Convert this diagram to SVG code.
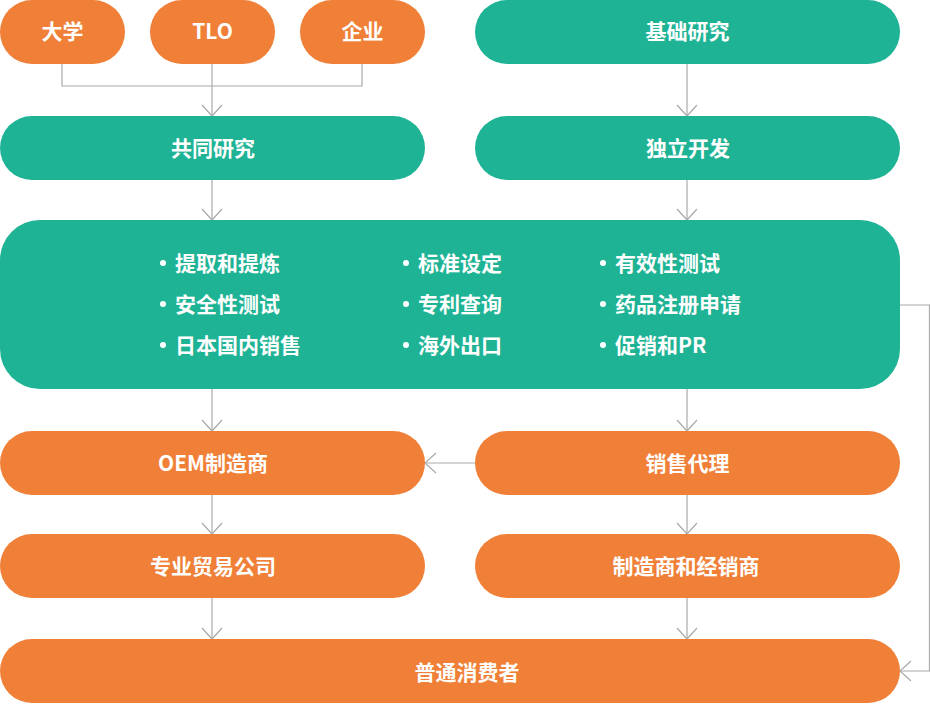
<svg xmlns="http://www.w3.org/2000/svg" width="930" height="704" viewBox="0 0 930 704">
<defs>
<style>
.o{fill:#F07F37}
.g{fill:#1FB395}
.t{fill:#fff;font-family:"Noto Sans CJK SC","Noto Sans",sans-serif;font-weight:bold;font-size:21px;text-anchor:middle;dominant-baseline:central}
.b{fill:#fff;font-family:"Noto Sans CJK SC","Noto Sans",sans-serif;font-weight:bold;font-size:21px;dominant-baseline:central}
.c{fill:none;stroke:#aaaaaa;stroke-width:1.2}
</style>
<marker id="a" markerWidth="24" markerHeight="24" viewBox="-12 -12 24 24" refX="0" refY="0" orient="auto" markerUnits="userSpaceOnUse">
<path d="M-11,-10 L0,0 L-11,10" fill="none" stroke="#aaaaaa" stroke-width="1.2"/>
</marker>
</defs>
<g id="connectors">
<path class="c" d="M62,64 V86 H362 V64"/>
<path class="c" d="M212,64 V116" marker-end="url(#a)"/>
<path class="c" d="M687,64 V116" marker-end="url(#a)"/>
<path class="c" d="M212,180 V220" marker-end="url(#a)"/>
<path class="c" d="M687,180 V220" marker-end="url(#a)"/>
<path class="c" d="M212,389 V431" marker-end="url(#a)"/>
<path class="c" d="M687,389 V431" marker-end="url(#a)"/>
<path class="c" d="M475,463 H425" marker-end="url(#a)"/>
<path class="c" d="M212,495 V534" marker-end="url(#a)"/>
<path class="c" d="M687,495 V534" marker-end="url(#a)"/>
<path class="c" d="M212,598 V639" marker-end="url(#a)"/>
<path class="c" d="M687,598 V639" marker-end="url(#a)"/>
<path class="c" d="M900,305 H929.5 V671 H900" marker-end="url(#a)"/>
</g>
<g id="daxue"><rect class="o" x="0" y="0" width="125" height="64" rx="32"/><text class="t" x="62.5" y="29.5">大学</text></g>
<g id="tlo"><rect class="o" x="150" y="0" width="125" height="64" rx="32"/><text class="t" x="212.5" y="29.5">TLO</text></g>
<g id="qiye"><rect class="o" x="300" y="0" width="125" height="64" rx="32"/><text class="t" x="362.5" y="29.5">企业</text></g>
<g id="jichu"><rect class="g" x="475" y="0" width="425" height="64" rx="32"/><text class="t" x="687.5" y="30">基础研究</text></g>
<g id="gongtong"><rect class="g" x="0" y="116" width="425" height="64" rx="32"/><text class="t" x="213" y="146.5">共同研究</text></g>
<g id="duli"><rect class="g" x="475" y="116" width="425" height="64" rx="32"/><text class="t" x="688" y="146.5">独立开发</text></g>
<g id="main">
<rect class="g" x="0" y="220" width="900" height="169" rx="40"/>
<g fill="#fff">
<circle cx="163" cy="263" r="3"/><circle cx="163" cy="304" r="3"/><circle cx="163" cy="345" r="3"/>
<circle cx="406" cy="263" r="3"/><circle cx="406" cy="304" r="3"/><circle cx="406" cy="345" r="3"/>
<circle cx="603" cy="263" r="3"/><circle cx="603" cy="304" r="3"/><circle cx="603" cy="345" r="3"/>
</g>
<text class="b" x="175" y="262">提取和提炼</text>
<text class="b" x="175" y="303">安全性测试</text>
<text class="b" x="175" y="344">日本国内销售</text>
<text class="b" x="418" y="262">标准设定</text>
<text class="b" x="418" y="303">专利查询</text>
<text class="b" x="418" y="344">海外出口</text>
<text class="b" x="615" y="262">有效性测试</text>
<text class="b" x="615" y="303">药品注册申请</text>
<text class="b" x="615" y="344">促销和PR</text>
</g>
<g id="oem"><rect class="o" x="0" y="431" width="425" height="64" rx="32"/><text class="t" x="213" y="462">OEM制造商</text></g>
<g id="xiaoshou"><rect class="o" x="475" y="431" width="425" height="64" rx="32"/><text class="t" x="687.5" y="462">销售代理</text></g>
<g id="zhuanye"><rect class="o" x="0" y="534" width="425" height="64" rx="32"/><text class="t" x="213" y="565">专业贸易公司</text></g>
<g id="zhizao"><rect class="o" x="475" y="534" width="425" height="64" rx="32"/><text class="t" x="686" y="565">制造商和经销商</text></g>
<g id="putong"><rect class="o" x="0" y="639" width="900" height="64" rx="32"/><text class="t" x="467" y="671">普通消费者</text></g>
</svg>
